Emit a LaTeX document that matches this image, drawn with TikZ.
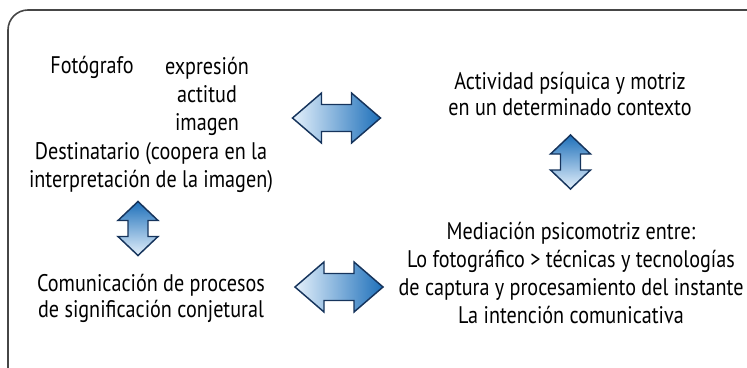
\documentclass[tikz,border=0pt]{standalone}
\usepackage{fontspec}
\setmainfont{PT Sans}[FakeStretch=0.84]
\usetikzlibrary{positioning}
\definecolor{arrlight}{RGB}{228,240,251}
\definecolor{arrdark}{RGB}{30,112,186}
\definecolor{arrline}{RGB}{22,52,92}
\definecolor{framegray}{RGB}{70,70,70}

\begin{document}
\begin{tikzpicture}[x=0.75pt,y=-0.75pt,
  every node/.style={align=center, inner sep=0pt, font=\fontsize{18}{21}\selectfont},
  tight/.style={font=\fontsize{18}{19.5}\selectfont},
  blockarrow/.style={draw=arrline, line width=1.1pt, line join=miter},
  hdbl/.pic={\path[blockarrow, left color=arrlight, right color=arrdark]
    (-44,0) -- (-15,-25) -- (-15,-13.5) -- (15,-13.5) -- (15,-25) -- (44,0)
    -- (15,25) -- (15,13.5) -- (-15,13.5) -- (-15,25) -- cycle;},
  vdbl/.pic={\path[blockarrow, top color=arrdark, bottom color=arrlight]
    (0,-27) -- (20,-8) -- (10,-8) -- (10,8) -- (20,8) -- (0,27)
    -- (-20,8) -- (-10,8) -- (-10,-8) -- (-20,-8) -- cycle;}
]
\useasboundingbox (0,0) rectangle (747,368);
\clip (0,0) rectangle (747,368);
\draw[framegray, line width=1.2pt, rounded corners=15pt] (8,10) rectangle (775,395);

\node (fotografo) at (92,67) {Fotógrafo};
\node (expresion) at (207,96) {expresión\\actitud\\imagen};
\node (destinatario) at (151,168) {Destinatario (coopera en la\\interpretación de la imagen)};
\node[tight] (comunicacion) at (151,298) {Comunicación de procesos\\de significación conjetural};
\node[tight] (actividad) at (570,94) {Actividad psíquica y motriz\\en un determinado contexto};
\node (mediacion) at (571,273) {Mediación psicomotriz entre:\\Lo fotográfico > técnicas y tecnologías\\de captura y procesamiento del instante\\La intención comunicativa};

\pic (arrtop) at (336.5,118) {hdbl};
\pic (arrbot) at (339,287) {hdbl};
\pic (arrleft) at (138,228.5) {vdbl};
\pic (arrright) at (570.5,162) {vdbl};
\end{tikzpicture}
\end{document}
